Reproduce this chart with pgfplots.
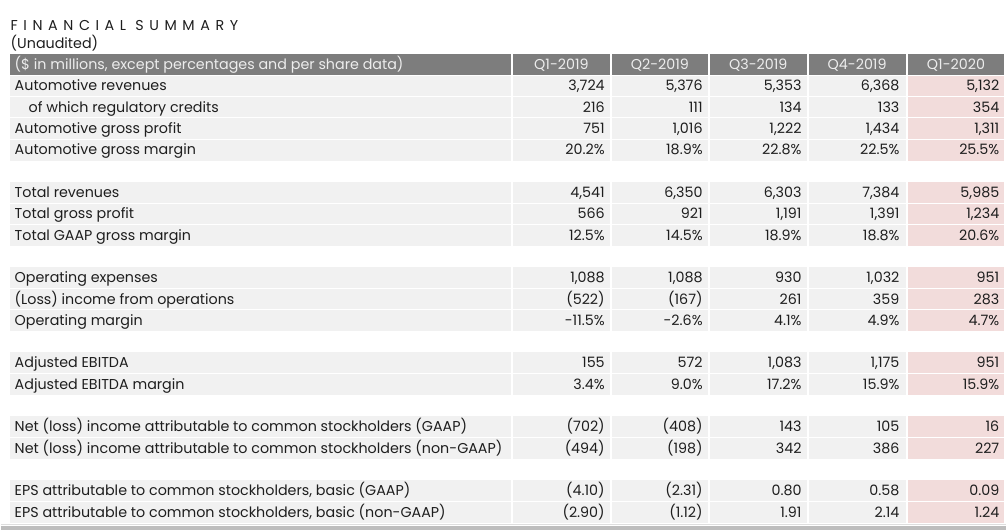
\documentclass[border=0pt]{standalone}
\usepackage{pgfplots}
\pgfplotsset{compat=1.18}
\usepackage{pgfplotstable}
\usepackage{fontspec}
\setmainfont{Poppins}
\newfontfamily\spaced[LetterSpace=39]{Poppins}
\definecolor{hdr}{HTML}{7D7D7D}
\definecolor{cellbg}{HTML}{F1F1F1}
\definecolor{pinkbg}{HTML}{F2DCDB}
\definecolor{txt}{HTML}{1E1E1E}
\definecolor{hdrtxt}{HTML}{EDEDED}
\definecolor{botline}{HTML}{BDBDBD}
\definecolor{botlight}{HTML}{DEDEDE}

\pgfplotstableread[col sep=semicolon]{
r;label;q1;q2;q3;q4;q5
1;Automotive revenues;3,724;5,376;5,353;6,368;5,132
2;\hspace*{14pt}of which regulatory credits;216;111;134;133;354
3;Automotive gross profit;751;1,016;1,222;1,434;1,311
4;Automotive gross margin;20.2\%;18.9\%;22.8\%;22.5\%;25.5\%
6;Total revenues;4,541;6,350;6,303;7,384;5,985
7;Total gross profit;566;921;1,191;1,391;1,234
8;Total GAAP gross margin;12.5\%;14.5\%;18.9\%;18.8\%;20.6\%
10;Operating expenses;1,088;1,088;930;1,032;951
11;(Loss) income from operations;(522);(167);261;359;283
12;Operating margin;-11.5\%;-2.6\%;4.1\%;4.9\%;4.7\%
14;Adjusted EBITDA;155;572;1,083;1,175;951
15;Adjusted EBITDA margin;3.4\%;9.0\%;17.2\%;15.9\%;15.9\%
17;Net (loss) income attributable to common stockholders (GAAP);(702);(408);143;105;16
18;Net (loss) income attributable to common stockholders (non-GAAP);(494);(198);342;386;227
20;EPS attributable to common stockholders, basic (GAAP);(4.10);(2.31);0.80;0.58;0.09
21;EPS attributable to common stockholders, basic (non-GAAP);(2.90);(1.12);1.91;2.14;1.24
}\fin

\pgfplotstableread[col sep=semicolon]{
x;name
561.5;Q1-2019
660;Q2-2019
758.5;Q3-2019
857.5;Q4-2019
956.5;Q1-2020
}\hdrtab

\newcommand\blk[2]{%
  \fill[cellbg] (axis cs:9,#1) rectangle (axis cs:511.5,#2);
  \fill[cellbg] (axis cs:513.5,#1) rectangle (axis cs:610,#2);
  \fill[cellbg] (axis cs:612,#1) rectangle (axis cs:708,#2);
  \fill[cellbg] (axis cs:710,#1) rectangle (axis cs:807,#2);
  \fill[cellbg] (axis cs:809,#1) rectangle (axis cs:906,#2);
  \fill[pinkbg] (axis cs:908,#1) rectangle (axis cs:1005,#2);
}
\newcommand\sep[1]{\draw[white, line width=1.1pt] (axis cs:0,#1) -- (axis cs:1007,#1);}

\begin{document}
\begin{tikzpicture}
\begin{axis}[
  scale only axis, width=1007pt, height=531pt,
  xmin=0, xmax=1007, ymin=0, ymax=531, y dir=reverse,
  hide axis, clip=false,
  font=\fontsize{14.3}{16}\selectfont,
]
\path (axis cs:0,0) rectangle (axis cs:1007,531);
% header
\fill[hdr] (axis cs:9,54) rectangle (axis cs:511.5,75.3);
\fill[hdr] (axis cs:513.5,54) rectangle (axis cs:610,75.3);
\fill[hdr] (axis cs:612,54) rectangle (axis cs:708,75.3);
\fill[hdr] (axis cs:710,54) rectangle (axis cs:807,75.3);
\fill[hdr] (axis cs:809,54) rectangle (axis cs:906,75.3);
\fill[hdr] (axis cs:908,54) rectangle (axis cs:1005,75.3);
% blocks
\blk{75.3}{160.7}
\blk{182}{246}
\blk{267.3}{331.3}
\blk{352.7}{395.3}
\blk{416.7}{459.3}
\blk{480.7}{523.3}
\sep{75.3}\sep{96.7}\sep{118}\sep{139.3}
\sep{203.3}\sep{224.7}
\sep{288.7}\sep{310}
\sep{374}\sep{438}\sep{502}
% bottom rule
\draw[botlight, line width=1pt] (axis cs:0,524.6) -- (axis cs:1007,524.6);
\fill[botline] (axis cs:0,526.5) rectangle (axis cs:1007,531);
% title
\node[anchor=base west, inner sep=0pt, text=txt] at (axis cs:10,31) {\spaced FINANCIAL SUMMARY};
\node[anchor=base west, inner sep=0pt, text=txt] at (axis cs:10,49) {(Unaudited)};
\node[anchor=base west, inner sep=0pt, text=hdrtxt] at (axis cs:14,69.6) {(\$ in millions, except percentages and per share data)};
% header labels
\addplot[draw=none, mark=none, forget plot, nodes near coords, point meta=explicit symbolic,
  nodes near coords style={anchor=base, inner sep=0pt, text=hdrtxt}]
  table[x=x, y expr=69.6, meta=name] {\hdrtab};
% row labels
\addplot[draw=none, mark=none, forget plot, nodes near coords, point meta=explicit symbolic,
  nodes near coords style={anchor=base west, inner sep=0pt, text=txt}]
  table[x expr=14, y expr={54+21.333*(\thisrow{r}+0.5)+5.0}, meta=label] {\fin};
% values
\addplot[draw=none, mark=none, forget plot, nodes near coords, point meta=explicit symbolic,
  nodes near coords style={anchor=base east, inner sep=0pt, text=txt}]
  table[x expr=605, y expr={54+21.333*(\thisrow{r}+0.5)+5.0}, meta=q1] {\fin};
\addplot[draw=none, mark=none, forget plot, nodes near coords, point meta=explicit symbolic,
  nodes near coords style={anchor=base east, inner sep=0pt, text=txt}]
  table[x expr=703, y expr={54+21.333*(\thisrow{r}+0.5)+5.0}, meta=q2] {\fin};
\addplot[draw=none, mark=none, forget plot, nodes near coords, point meta=explicit symbolic,
  nodes near coords style={anchor=base east, inner sep=0pt, text=txt}]
  table[x expr=802, y expr={54+21.333*(\thisrow{r}+0.5)+5.0}, meta=q3] {\fin};
\addplot[draw=none, mark=none, forget plot, nodes near coords, point meta=explicit symbolic,
  nodes near coords style={anchor=base east, inner sep=0pt, text=txt}]
  table[x expr=900, y expr={54+21.333*(\thisrow{r}+0.5)+5.0}, meta=q4] {\fin};
\addplot[draw=none, mark=none, forget plot, nodes near coords, point meta=explicit symbolic,
  nodes near coords style={anchor=base east, inner sep=0pt, text=txt}]
  table[x expr=1000, y expr={54+21.333*(\thisrow{r}+0.5)+5.0}, meta=q5] {\fin};
\end{axis}
\end{tikzpicture}
\end{document}
